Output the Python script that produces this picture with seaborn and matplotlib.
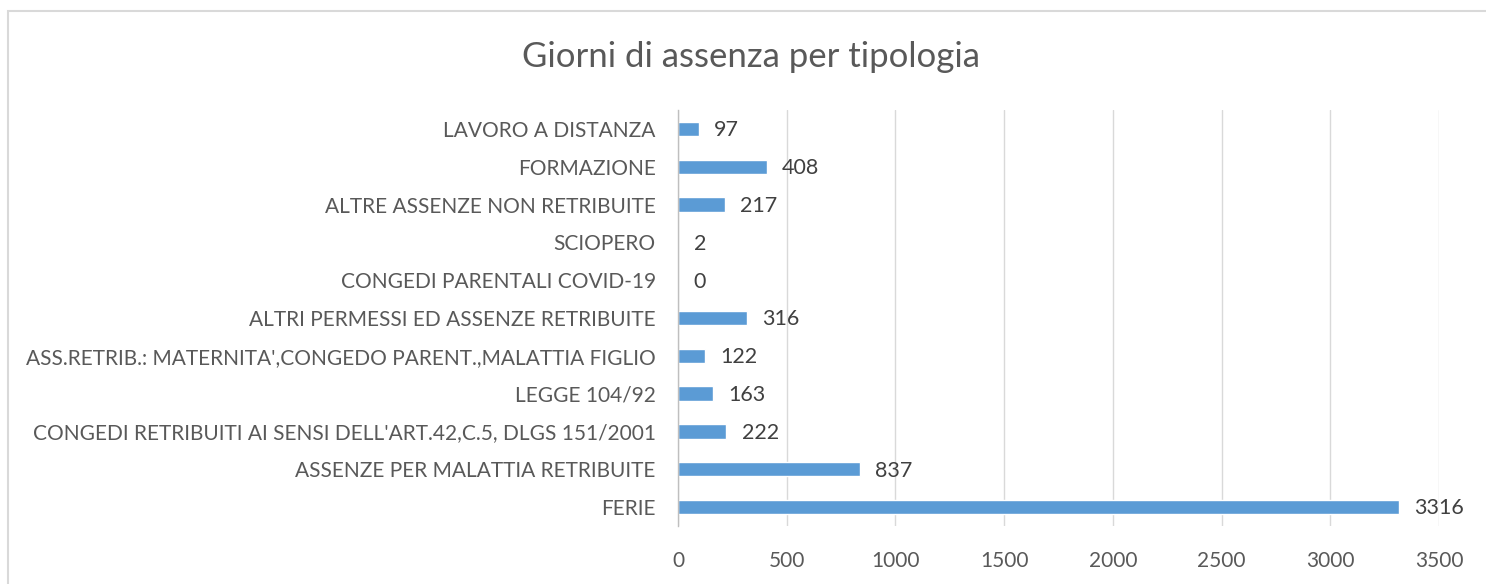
import matplotlib
matplotlib.use("Agg")
import matplotlib.pyplot as plt
import seaborn as sns
import pandas as pd
from matplotlib.patches import Rectangle

categories = [
    "LAVORO A DISTANZA",
    "FORMAZIONE",
    "ALTRE ASSENZE NON RETRIBUITE",
    "SCIOPERO",
    "CONGEDI PARENTALI COVID-19",
    "ALTRI PERMESSI ED ASSENZE RETRIBUITE",
    "ASS.RETRIB.: MATERNITA',CONGEDO PARENT.,MALATTIA FIGLIO",
    "LEGGE 104/92",
    "CONGEDI RETRIBUITI AI SENSI DELL'ART.42,C.5, DLGS 151/2001",
    "ASSENZE PER MALATTIA RETRIBUITE",
    "FERIE",
]
values = [97, 408, 217, 2, 0, 316, 122, 163, 222, 837, 3316]
xticks = [0, 500, 1000, 1500, 2000, 2500, 3000, 3500]
title = "Giorni di assenza per tipologia"

sns.set_theme(style="white")
plt.rcParams['font.family'] = ['Lato', 'DejaVu Sans']

df = pd.DataFrame({"cat": categories, "val": values})

fig = plt.figure(figsize=(14.86, 5.84), dpi=100)
ax = fig.add_axes([678/1486, 1-526/584, (1439-678)/1486, (526-110)/584])

sns.barplot(data=df, x="val", y="cat", orient="h", color="#5B9BD5",
            saturation=1, width=0.38, ax=ax)

ax.set_xlim(0, 3500)
ax.set_xticks(xticks)
ax.set_xticklabels([str(t) for t in xticks])
ax.set_xlabel("")
ax.set_ylabel("")
ax.xaxis.grid(True, color="#D9D9D9", linewidth=1)
ax.set_axisbelow(True)
for s in ["top", "right", "bottom"]:
    ax.spines[s].set_visible(False)
ax.spines["left"].set_color("#BFBFBF")
ax.spines["left"].set_linewidth(1)
ax.tick_params(axis="both", length=0, labelsize=15, colors="#595959")
ax.tick_params(axis="x", pad=18)
ax.tick_params(axis="y", pad=16)

for i, v in enumerate(values):
    ax.annotate(str(v), xy=(v, i), xytext=(11, -1), textcoords="offset points",
                ha="left", va="center", fontsize=15.5, color="#404040")

fig.text(750.5/1486, 1-57/584, title, ha="center", va="center", fontsize=25, color="#595959")

fig.patches.append(Rectangle((8/1486, -0.1), 1.2, 1-11/584+0.1, transform=fig.transFigure,
                             fill=False, edgecolor="#D9D9D9", linewidth=1.5))

fig.savefig("out.png", dpi=100)
